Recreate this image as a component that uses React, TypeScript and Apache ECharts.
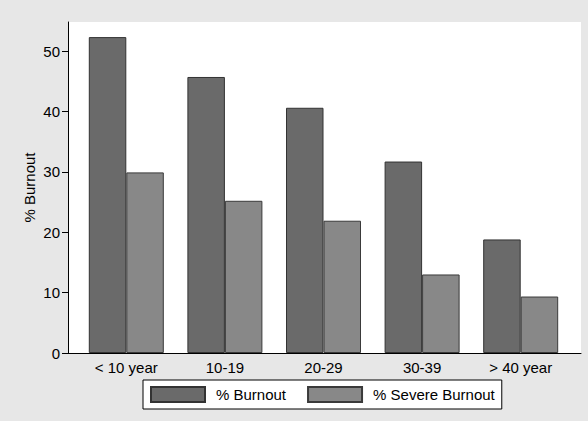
import React, { useEffect, useRef } from "react";
import * as echarts from "echarts";

const categories = ["< 10 year", "10-19", "20-29", "30-39", "> 40 year"];
const burnout = [52.3, 45.7, 40.6, 31.7, 18.8];
const severeBurnout = [29.9, 25.2, 21.9, 13.0, 9.35];
const seriesNames = ["% Burnout", "% Severe Burnout"];
const yAxisName = "% Burnout";

const FONT = "'Liberation Sans', Arial, sans-serif";

export default function App() {
  const ref = useRef<HTMLDivElement>(null);
  useEffect(() => {
    if (!ref.current) return;
    const chart = echarts.init(ref.current, undefined, { renderer: "svg" });
    chart.setOption({
      animation: false,
      backgroundColor: "#e7e7e7",
      textStyle: { fontFamily: FONT },
      grid: [
        {
          left: 68,
          right: 7,
          top: 22,
          bottom: 68,
          show: true,
          backgroundColor: "#ffffff",
          borderWidth: 0,
        },
        {
          left: 77,
          right: 18,
          top: 51,
          bottom: 68,
        },
      ],
      xAxis: [
        {
          gridIndex: 0,
          type: "value",
          min: 0,
          max: 1,
          axisLine: { show: true, onZero: false, lineStyle: { color: "#000", width: 1 } },
          axisTick: { show: false },
          axisLabel: { show: false },
          splitLine: { show: false },
        },
        {
          gridIndex: 1,
          type: "category",
          data: categories,
          axisLine: { show: false },
          axisTick: { show: false },
          axisLabel: {
            color: "#000",
            fontSize: 15,
            fontFamily: FONT,
            margin: 7,
            interval: 0,
          },
          splitLine: { show: false },
        },
      ],
      yAxis: [
        {
          gridIndex: 0,
          type: "value",
          min: 0,
          max: 1,
          axisLine: { show: true, onZero: false, lineStyle: { color: "#000", width: 1 } },
          axisTick: { show: false },
          axisLabel: { show: false },
          splitLine: { show: false },
          name: yAxisName,
          nameLocation: "middle",
          nameGap: 31,
          nameTextStyle: { color: "#000", fontSize: 15, fontFamily: FONT },
        },
        {
          gridIndex: 1,
          type: "value",
          min: 0,
          max: 50,
          interval: 10,
          offset: 9,
          axisLine: { show: false },
          axisTick: { show: true, length: 6, lineStyle: { color: "#000", width: 1 } },
          axisLabel: { color: "#000", fontSize: 15, fontFamily: FONT, margin: 8 },
          splitLine: { show: false },
        },
      ],
      legend: {
        data: seriesNames,
        left: 143,
        top: 380,
        orient: "horizontal",
        padding: [6, 7, 6, 7],
        borderColor: "#000",
        borderWidth: 1,
        backgroundColor: "#ffffff",
        itemWidth: 54,
        itemHeight: 15,
        itemGap: 21,
        icon: "rect",
        textStyle: {
          color: "#000",
          fontSize: 15,
          fontFamily: FONT,
          padding: [0, 0, 0, 6],
        },
      },
      series: [
        {
          name: seriesNames[0],
          type: "bar",
          xAxisIndex: 1,
          yAxisIndex: 1,
          data: burnout,
          barWidth: 37.5,
          barGap: "0%",
          clip: false,
          itemStyle: { color: "#6a6a6a", borderColor: "#333333", borderWidth: 1 },
        },
        {
          name: seriesNames[1],
          type: "bar",
          xAxisIndex: 1,
          yAxisIndex: 1,
          data: severeBurnout,
          barWidth: 37.5,
          barGap: "0%",
          clip: false,
          itemStyle: { color: "#888888", borderColor: "#3a3a3a", borderWidth: 1 },
        },
      ],
    });
    return () => chart.dispose();
  }, []);
  return (
    <div
      ref={ref}
      style={{ position: "fixed", left: 0, top: 0, width: 588, height: 421 }}
    />
  );
}
